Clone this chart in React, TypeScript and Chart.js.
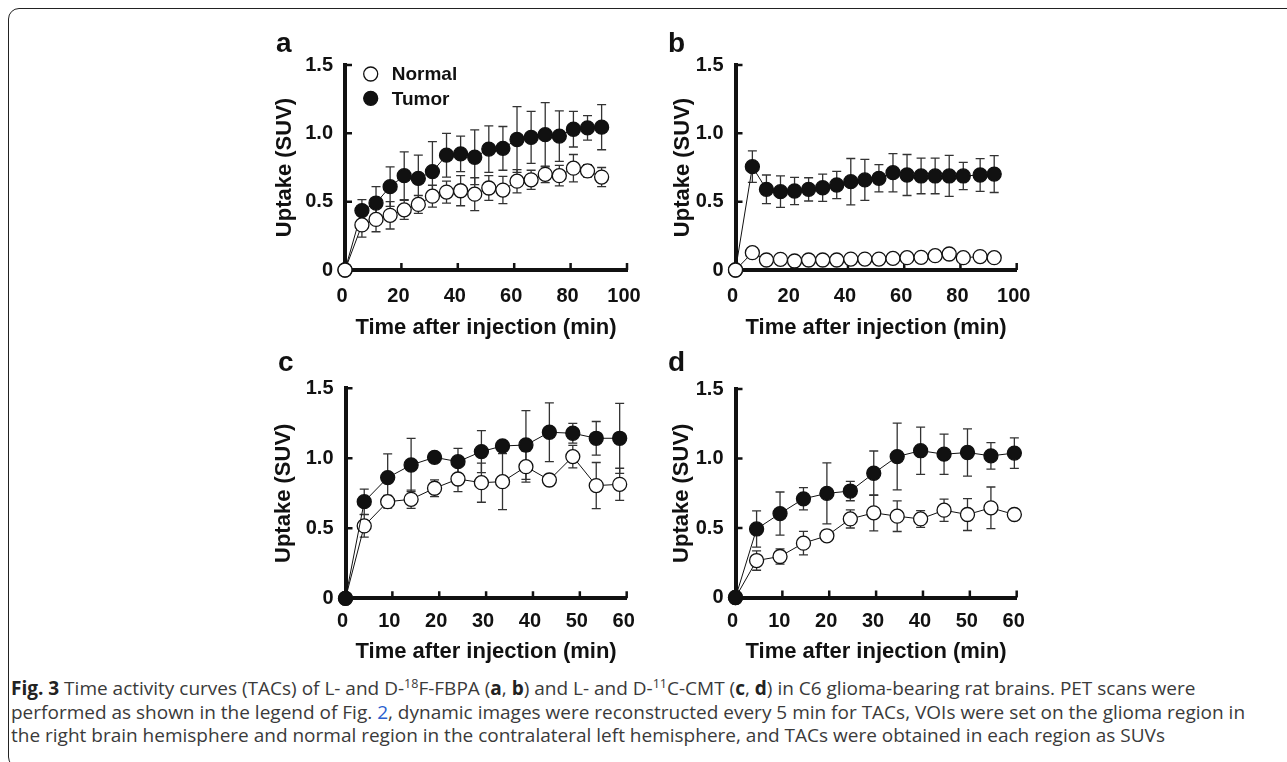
import React, { useEffect, useRef } from "react";
import { Chart, registerables } from "chart.js";

Chart.register(...registerables);

// ---------------- DATA ----------------
const seriesLabels = ["Normal", "Tumor"];
const xTitle = "Time after injection (min)";
const yTitle = "Uptake (SUV)";
const yTickValues = [0, 0.5, 1.0, 1.5];

// Panel a (L-18F-FBPA)
const timesA = [0, 6, 11, 16, 21, 26, 31, 36, 41, 46, 51, 56, 61, 66, 71, 76, 81, 86, 91];
const normalA = [0, 0.33, 0.37, 0.4, 0.44, 0.48, 0.54, 0.57, 0.58, 0.555, 0.6, 0.585, 0.65, 0.66, 0.7, 0.69, 0.745, 0.725, 0.68];
const normalErrA = [0, 0.09, 0.09, 0.1, 0.07, 0.065, 0.08, 0.08, 0.11, 0.12, 0.09, 0.1, 0.085, 0.07, 0.06, 0.075, 0.1, 0.045, 0.07];
const tumorA = [0, 0.435, 0.49, 0.61, 0.69, 0.67, 0.72, 0.84, 0.85, 0.825, 0.885, 0.89, 0.955, 0.97, 0.99, 0.98, 1.03, 1.04, 1.045];
const tumorErrA = [0, 0.08, 0.12, 0.145, 0.175, 0.17, 0.22, 0.16, 0.13, 0.2, 0.17, 0.16, 0.24, 0.19, 0.235, 0.185, 0.13, 0.09, 0.165];

// Panel b (D-18F-FBPA)
const timesB = [0, 6, 11, 16, 21, 26, 31, 36, 41, 46, 51, 56, 61, 66, 71, 76, 81, 87, 92];
const normalB = [0, 0.127, 0.073, 0.078, 0.066, 0.073, 0.073, 0.073, 0.08, 0.08, 0.08, 0.085, 0.09, 0.093, 0.105, 0.117, 0.09, 0.098, 0.09];
const normalErrB = [0, 0.02, 0.01, 0.015, 0.01, 0.01, 0.01, 0.01, 0.015, 0.02, 0.015, 0.01, 0.02, 0.02, 0.035, 0.02, 0.01, 0.015, 0.01];
const tumorB = [0, 0.756, 0.59, 0.573, 0.578, 0.59, 0.602, 0.622, 0.646, 0.659, 0.671, 0.712, 0.695, 0.688, 0.688, 0.688, 0.688, 0.695, 0.702];
const tumorErrB = [0, 0.115, 0.105, 0.115, 0.1, 0.085, 0.1, 0.1, 0.17, 0.15, 0.1, 0.14, 0.15, 0.13, 0.13, 0.15, 0.1, 0.12, 0.135];

// Panel c (L-11C-CMT)
const timesC = [0, 4, 9, 14, 19, 24, 29, 33.5, 38.5, 43.5, 48.5, 53.5, 58.5];
const normalC = [0, 0.517, 0.69, 0.707, 0.786, 0.852, 0.826, 0.833, 0.94, 0.845, 1.012, 0.805, 0.814];
const normalErrC = [0, 0.08, 0.045, 0.065, 0.06, 0.09, 0.14, 0.2, 0.11, 0.04, 0.08, 0.165, 0.115];
const tumorC = [0, 0.69, 0.862, 0.952, 1.007, 0.976, 1.048, 1.088, 1.095, 1.186, 1.179, 1.143, 1.143];
const tumorErrC = [0, 0.09, 0.17, 0.19, 0.03, 0.095, 0.15, 0.03, 0.245, 0.21, 0.07, 0.12, 0.25];

// Panel d (D-11C-CMT)
const timesD = [0, 4.5, 9.5, 14.5, 19.5, 24.5, 29.5, 34.5, 39.5, 44.5, 49.5, 54.5, 59.5];
const normalD = [0, 0.266, 0.295, 0.391, 0.444, 0.565, 0.609, 0.585, 0.565, 0.628, 0.597, 0.645, 0.597];
const normalErrD = [0, 0.07, 0.055, 0.085, 0.03, 0.065, 0.13, 0.11, 0.06, 0.08, 0.115, 0.15, 0.03];
const tumorD = [0, 0.493, 0.604, 0.71, 0.749, 0.766, 0.894, 1.014, 1.056, 1.031, 1.043, 1.019, 1.039];
const tumorErrD = [0, 0.13, 0.155, 0.08, 0.22, 0.07, 0.16, 0.24, 0.17, 0.145, 0.17, 0.095, 0.11];

const xMaxAB = 100;
const xStepAB = 20;
const xMaxCD = 60;
const xStepCD = 10;

// ---------------- STYLE ----------------
const FONT = "'Liberation Sans', Arial, Helvetica, sans-serif";
const INK = "#111111";
const TITLE_SIZE = 22;
const TICK_SIZE = 20;
const LH = 1.2;

const errorBarPlugin = {
  id: "errorBars",
  beforeDatasetsDraw(chart: any) {
    const { ctx } = chart;
    const ys = chart.scales.y;
    chart.data.datasets.forEach((ds: any, i: number) => {
      const errs = ds.errors;
      if (!errs) return;
      const meta = chart.getDatasetMeta(i);
      ctx.save();
      ctx.strokeStyle = "#333333";
      ctx.lineWidth = 1.3;
      meta.data.forEach((pt: any, j: number) => {
        const e = errs[j];
        if (!e) return;
        const v = ds.data[j].y;
        const yTop = ys.getPixelForValue(v + e);
        const yBot = ys.getPixelForValue(v - e);
        const x = pt.x;
        ctx.beginPath();
        ctx.moveTo(x, yTop);
        ctx.lineTo(x, yBot);
        ctx.moveTo(x - 4.5, yTop);
        ctx.lineTo(x + 4.5, yTop);
        ctx.moveTo(x - 4.5, yBot);
        ctx.lineTo(x + 4.5, yBot);
        ctx.stroke();
      });
      ctx.restore();
    });
  },
};

const innerTicksPlugin = {
  id: "innerTicks",
  beforeDatasetsDraw(chart: any) {
    const { ctx, chartArea: a } = chart;
    const xs = chart.scales.x;
    const ys = chart.scales.y;
    ctx.save();
    ctx.strokeStyle = INK;
    ctx.lineWidth = 2.5;
    ctx.beginPath();
    xs.ticks.forEach((t: any) => {
      if (t.value === 0) return;
      const px = xs.getPixelForValue(t.value);
      ctx.moveTo(px, a.bottom);
      ctx.lineTo(px, a.bottom - 7);
    });
    ys.ticks.forEach((t: any) => {
      if (t.value === 0) return;
      const py = ys.getPixelForValue(t.value);
      ctx.moveTo(a.left, py);
      ctx.lineTo(a.left + 7, py);
    });
    ctx.stroke();
    ctx.restore();
  },
};

const insetLegendPlugin = {
  id: "insetLegend",
  afterDatasetsDraw(chart: any, _args: any, opts: any) {
    if (!opts || !opts.display) return;
    const { ctx, chartArea: a } = chart;
    (opts.order as number[]).forEach((di, k) => {
      const ds = chart.data.datasets[di];
      const cx = a.left + opts.dx;
      const cy = a.top + opts.dy + k * opts.gap;
      ctx.save();
      ctx.beginPath();
      ctx.arc(cx, cy, 7, 0, Math.PI * 2);
      ctx.fillStyle = ds.pointBackgroundColor;
      ctx.fill();
      ctx.lineWidth = ds.pointBorderWidth;
      ctx.strokeStyle = ds.pointBorderColor;
      ctx.stroke();
      ctx.fillStyle = INK;
      ctx.font = `bold 19px ${FONT}`;
      ctx.textBaseline = "middle";
      ctx.textAlign = "left";
      ctx.fillText(ds.label, a.left + opts.textDx, cy + 1);
      ctx.restore();
    });
  },
};

type PanelCfg = {
  left: number;
  top: number;
  width: number;
  height: number;
  area: { l: number; r: number; t: number; b: number };
  yTitleX: number;
  xTickY: number;
  xTitleY: number;
  xMax: number;
  xStep: number;
  times: number[];
  normal: number[];
  normalErr: number[];
  tumor: number[];
  tumorErr: number[];
  tumorOnTop: boolean;
  legend: boolean;
};

function buildDataset(label: string, times: number[], vals: number[], errs: number[], filled: boolean) {
  return {
    label,
    data: times.map((t, i) => ({ x: t, y: vals[i] })),
    errors: errs,
    borderColor: INK,
    borderWidth: 1,
    pointRadius: 7,
    pointHoverRadius: 7,
    pointBorderWidth: 1.3,
    pointBorderColor: INK,
    pointBackgroundColor: filled ? INK : "#ffffff",
    tension: 0,
    clip: false as any,
  };
}

function Panel({ cfg }: { cfg: PanelCfg }) {
  const ref = useRef<HTMLCanvasElement | null>(null);
  useEffect(() => {
    if (!ref.current) return;
    const { left, top, width, height, area } = cfg;
    const padTop = area.t - top;
    const padRight = left + width - area.r;
    const yAxisW = area.l - left;
    const xAxisH = top + height - area.b;
    const titleLH = TITLE_SIZE * LH;
    const tickLH = TICK_SIZE * LH;
    const yTitlePad = cfg.yTitleX - left - titleLH / 2;
    const xTitlePad = top + height - cfg.xTitleY - titleLH / 2;
    const xTickPad = cfg.xTickY - area.b - tickLH / 2;

    const normalDs = buildDataset(seriesLabels[0], cfg.times, cfg.normal, cfg.normalErr, false);
    const tumorDs = buildDataset(seriesLabels[1], cfg.times, cfg.tumor, cfg.tumorErr, true);
    const datasets = cfg.tumorOnTop ? [tumorDs, normalDs] : [normalDs, tumorDs];

    const chart = new Chart(ref.current, {
      type: "line",
      data: { datasets: datasets as any },
      plugins: [errorBarPlugin, innerTicksPlugin, insetLegendPlugin],
      options: {
        responsive: false,
        animation: false,
        devicePixelRatio: 1,
        layout: { padding: { top: padTop, right: padRight, left: 0, bottom: 0 } },
        plugins: {
          legend: { display: false },
          tooltip: { enabled: false },
          insetLegend: {
            display: cfg.legend,
            order: cfg.tumorOnTop ? [1, 0] : [0, 1],
            dx: 25.7,
            dy: 9,
            gap: 24.3,
            textDx: 46.7,
          },
        } as any,
        scales: {
          x: {
            type: "linear",
            min: 0,
            max: cfg.xMax,
            grid: { display: false, drawTicks: false },
            border: { display: true, width: 4, color: INK },
            ticks: {
              stepSize: cfg.xStep,
              padding: xTickPad,
              labelOffset: -3,
              color: INK,
              maxRotation: 0,
              autoSkip: false,
              font: { family: FONT, size: TICK_SIZE, weight: "bold", lineHeight: LH },
              callback: (v: any) => String(v),
            },
            title: {
              display: true,
              text: xTitle,
              color: INK,
              padding: { top: 0, bottom: xTitlePad },
              font: { family: FONT, size: TITLE_SIZE, weight: "bold", lineHeight: LH },
            },
            afterFit: (s: any) => {
              s.height = xAxisH;
            },
          },
          y: {
            type: "linear",
            min: 0,
            max: 1.5,
            afterBuildTicks: (s: any) => {
              s.ticks = yTickValues.map((v) => ({ value: v }));
            },
            grid: { display: false, drawTicks: false },
            border: { display: true, width: 4, color: INK },
            ticks: {
              padding: 12,
              color: INK,
              autoSkip: false,
              font: { family: FONT, size: TICK_SIZE, weight: "bold", lineHeight: LH },
              callback: (v: any) => (Number(v) === 0 ? "0" : Number(v).toFixed(1)),
            },
            title: {
              display: true,
              text: yTitle,
              color: INK,
              padding: { top: yTitlePad, bottom: 0 },
              font: { family: FONT, size: TITLE_SIZE, weight: "bold", lineHeight: LH },
            },
            afterFit: (s: any) => {
              s.width = yAxisW;
            },
          },
        },
      } as any,
    });
    return () => chart.destroy();
  }, [cfg]);
  return (
    <canvas
      ref={ref}
      width={cfg.width}
      height={cfg.height}
      style={{ position: "absolute", left: cfg.left, top: cfg.top, width: cfg.width, height: cfg.height }}
    />
  );
}

const panels: PanelCfg[] = [
  {
    left: 250, top: 30, width: 420, height: 320,
    area: { l: 345, r: 627, t: 65, b: 270 },
    yTitleX: 285, xTickY: 296.7, xTitleY: 328.3,
    xMax: xMaxAB, xStep: xStepAB,
    times: timesA, normal: normalA, normalErr: normalErrA, tumor: tumorA, tumorErr: tumorErrA,
    tumorOnTop: false, legend: true,
  },
  {
    left: 640, top: 30, width: 420, height: 320,
    area: { l: 735.5, r: 1016.7, t: 65, b: 270 },
    yTitleX: 683, xTickY: 296.7, xTitleY: 328.3,
    xMax: xMaxAB, xStep: xStepAB,
    times: timesB, normal: normalB, normalErr: normalErrB, tumor: tumorB, tumorErr: tumorErrB,
    tumorOnTop: false, legend: false,
  },
  {
    left: 250, top: 350, width: 420, height: 320,
    area: { l: 345.5, r: 626.7, t: 388.3, b: 598.3 },
    yTitleX: 284, xTickY: 621.7, xTitleY: 651.7,
    xMax: xMaxCD, xStep: xStepCD,
    times: timesC, normal: normalC, normalErr: normalErrC, tumor: tumorC, tumorErr: tumorErrC,
    tumorOnTop: true, legend: false,
  },
  {
    left: 640, top: 350, width: 420, height: 320,
    area: { l: 735.5, r: 1016.7, t: 389, b: 597.5 },
    yTitleX: 682, xTickY: 621.7, xTitleY: 651.7,
    xMax: xMaxCD, xStep: xStepCD,
    times: timesD, normal: normalD, normalErr: normalErrD, tumor: tumorD, tumorErr: tumorErrD,
    tumorOnTop: true, legend: false,
  },
];

const panelLetters = [
  { t: "a", x: 276, baseline: 53 },
  { t: "b", x: 668, baseline: 53 },
  { t: "c", x: 278, baseline: 372 },
  { t: "d", x: 668, baseline: 372 },
];

const sup: React.CSSProperties = { fontSize: "0.66em", verticalAlign: "super", lineHeight: 0 };
const boldDark: React.CSSProperties = { fontWeight: "bold", color: "#222" };

export default function App() {
  return (
    <div
      style={{
        position: "absolute",
        left: 0,
        top: 0,
        width: 1287,
        height: 762,
        overflow: "hidden",
        background: "#ffffff",
      }}
    >
      <div
        style={{
          position: "absolute",
          left: 8,
          top: 8,
          width: 1400,
          height: 760,
          border: "1.5px solid #222222",
          borderRadius: 11,
          boxSizing: "border-box",
        }}
      />
      {panels.map((p, i) => (
        <Panel key={i} cfg={p} />
      ))}
      {panelLetters.map((l) => (
        <div
          key={l.t}
          style={{
            position: "absolute",
            left: l.x,
            top: l.baseline - 23.7,
            fontFamily: FONT,
            fontWeight: "bold",
            fontSize: 28,
            lineHeight: "28px",
            color: INK,
          }}
        >
          {l.t}
        </div>
      ))}
      <div
        style={{
          position: "absolute",
          left: 11,
          top: 677,
          fontFamily: "'Open Sans', 'Noto Sans', sans-serif",
          fontSize: 19,
          lineHeight: "23.5px",
          color: "#3a3a3a",
          whiteSpace: "nowrap",
        }}
      >
        <span style={boldDark}>Fig. 3</span> Time activity curves (TACs) of L- and D-
        <span style={sup}>18</span>F-FBPA (<span style={boldDark}>a</span>, <span style={boldDark}>b</span>) and L- and D-
        <span style={sup}>11</span>C-CMT (<span style={boldDark}>c</span>, <span style={boldDark}>d</span>) in C6
        glioma-bearing rat brains. PET scans were
        <br />
        performed as shown in the legend of Fig. <span style={{ color: "#2a5fcf" }}>2</span>, dynamic images were
        reconstructed every 5 min for TACs, VOIs were set on the glioma region in
        <br />
        the right brain hemisphere and normal region in the contralateral left hemisphere, and TACs were obtained in each
        region as SUVs
      </div>
    </div>
  );
}
